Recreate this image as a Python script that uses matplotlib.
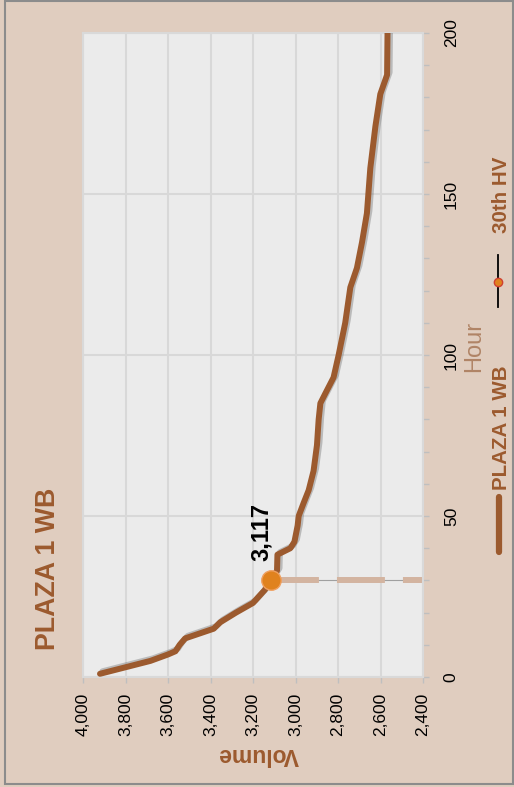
import matplotlib
matplotlib.use("Agg")
import matplotlib.pyplot as plt
from matplotlib import font_manager
from matplotlib.lines import Line2D
from matplotlib.patches import Rectangle
import matplotlib.patheffects as pe

# ---------------- data ----------------
title_text = "PLAZA 1 WB"
series_name = "PLAZA 1 WB"
hv_name = "30th HV"
hours = [1, 5, 7, 8, 10, 12, 15, 17, 20, 23, 27, 30, 33, 38, 40, 42, 47, 50, 54,
         58, 64, 72, 80, 85, 88, 93, 100, 110, 121, 127, 135, 144, 158, 171,
         181, 187, 200]
volumes = [3920, 3683, 3600, 3565, 3545, 3519, 3385, 3354, 3280, 3200, 3145,
           3117, 3087, 3085, 3024, 3005, 2990, 2985, 2962, 2938, 2915, 2899,
           2891, 2883, 2860, 2821, 2797, 2766, 2742, 2711, 2687, 2664, 2648,
           2624, 2601, 2569, 2567]
hv_hour = 30
hv_volume = 3117
hv_label = "3,117"
vol_ticks = [2400, 2600, 2800, 3000, 3200, 3400, 3600, 3800, 4000]
hour_ticks = [0, 50, 100, 150, 200]

# ---------------- fonts ----------------
names = {f.name for f in font_manager.fontManager.ttflist}
REG = "Liberation Sans" if "Liberation Sans" in names else "DejaVu Sans"
NARROW = "Liberation Sans Narrow" if "Liberation Sans Narrow" in names else REG
nscale = 1.0 if NARROW == "Liberation Sans Narrow" else 0.82

plt.rcParams['lines.scale_dashes'] = False

W, H = 514, 787
BG = "#E0CDBF"
PLOT_BG = "#EBEBEB"
GRID = "#D8D8D8"
BROWN = "#9C5A2E"

fig = plt.figure(figsize=(W / 100, H / 100), dpi=100, facecolor=BG)

def fx(px):
    return px / W

def fy(py):
    return 1 - py / H

# plot area in pixels: x 83..423, y 33..677
ax = fig.add_axes([fx(83), fy(677), fx(423) - fx(83), fy(33) - fy(677)])
ax.set_facecolor(PLOT_BG)
ax.set_xlim(4000, 2400)
ax.set_ylim(0, 200)

ax.set_xticks(vol_ticks)
ax.set_xticklabels([f"{v:,}" for v in vol_ticks], rotation=90,
                   fontsize=12.5, family=REG, color="black")
ax.set_yticks(hour_ticks)
ax.set_yticks(list(range(0, 201, 10)), minor=True)
ax.yaxis.tick_right()
ax.set_yticklabels([str(h) for h in hour_ticks], rotation=90,
                   fontsize=12.5, family=REG, color="black", va="center", ha="left")
ax.tick_params(axis="x", length=4, width=1, color="#BFBFBF", pad=7)
ax.tick_params(axis="y", which="both", length=4, width=1, color="#BFBFBF", pad=11)

ax.grid(True, which="major", color=GRID, linewidth=1.5)
ax.set_axisbelow(True)
for s in ax.spines.values():
    s.set_color("#D9D9D9")
    s.set_linewidth(1.5)

# 30th HV reference line
ax.plot([hv_volume, 2400], [hv_hour, hv_hour], color="#A0A0A0", lw=0.8, zorder=2)
ax.plot([hv_volume, 2400], [hv_hour, hv_hour], color="#D3B4A0", lw=4.3,
        dashes=(34.5, 13), solid_capstyle="butt", zorder=2)

# main curve
ax.plot(volumes, hours, color=BROWN, lw=4.3, solid_capstyle="round",
        solid_joinstyle="round", zorder=3,
        path_effects=[pe.SimpleLineShadow(offset=(1.8, 1.8), shadow_color="#606060",
                                          alpha=0.35), pe.Normal()])

# marker
ax.plot([hv_volume], [hv_hour], marker="o", markersize=14, color="#E0821E",
        markeredgecolor="#F0A060", markeredgewidth=1, zorder=4)
ax.text(3160, 36, hv_label, rotation=90, ha="center", va="bottom",
        fontsize=17, fontweight="bold", family=REG, color="black")

# title
fig.text(fx(48.5), fy(569), title_text, rotation=90, ha="center", va="center",
         fontsize=23.5 * nscale, fontweight="bold", family=NARROW, color=BROWN)

# axis titles
fig.text(fx(258), fy(755), "Volume", rotation=180, ha="center", va="center",
         fontsize=16.5, fontweight="bold", family=REG, color=BROWN)
fig.text(fx(474), fy(346), "Hour", rotation=90, ha="center", va="center",
         fontsize=17, family=REG, color="#B08466")

# legend (manual, rotated)
fig.add_artist(Line2D([fx(499), fx(499)], [fy(552), fy(497)], color=BROWN,
                      lw=4.5, solid_capstyle="round"))
fig.text(fx(501.5), fy(490), series_name, rotation=90, ha="center", va="bottom",
         fontsize=18 * nscale, fontweight="bold", family=NARROW, color=BROWN)
fig.add_artist(Line2D([fx(498), fx(498)], [fy(307), fy(255)], color="black", lw=1.3))
fig.add_artist(Line2D([fx(498)], [fy(282)], marker="o", markersize=6,
                      color="#E0821E", markeredgecolor="#D04030", markeredgewidth=1))
fig.text(fx(501.5), fy(233), hv_name, rotation=90, ha="center", va="bottom",
         fontsize=18 * nscale, fontweight="bold", family=NARROW, color=BROWN)

# outer border
fig.add_artist(Rectangle((fx(4.5), fy(784)), fx(513) - fx(4.5), fy(1) - fy(784),
                         fill=False, edgecolor="#8C8C8C", lw=1.5))

fig.savefig("out.png", dpi=100, facecolor=BG)
